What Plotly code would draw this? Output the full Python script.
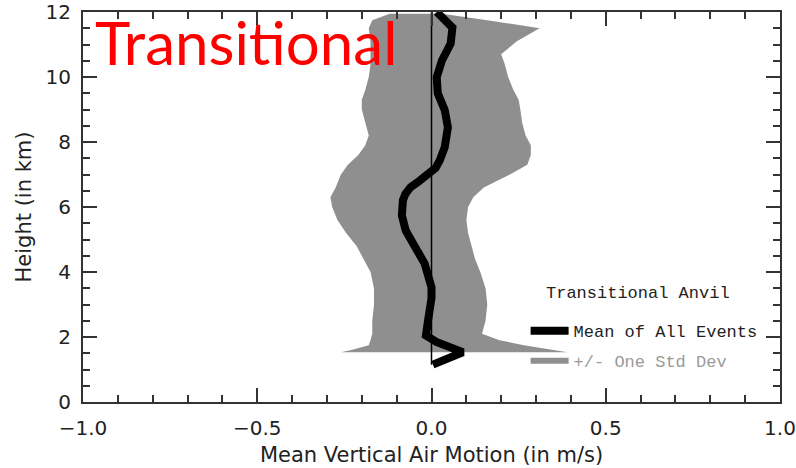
import plotly.graph_objects as go

# Standard-deviation envelope: height (km) with lower / upper bound (m/s)
band_height = [1.53, 1.60, 1.75, 1.90, 2.10, 2.50, 3.00, 3.50, 4.00, 4.40, 4.80,
               5.20, 5.60, 6.00, 6.30, 6.60, 7.00, 7.30, 7.60, 7.90, 8.20, 8.60,
               9.00, 9.30, 9.60, 10.00, 10.40, 10.70, 11.10, 11.50, 11.75, 11.95]
band_low = [-0.26, -0.23, -0.18, -0.175, -0.17, -0.17, -0.165, -0.165, -0.175, -0.195, -0.215,
            -0.245, -0.27, -0.285, -0.29, -0.275, -0.26, -0.24, -0.21, -0.19, -0.18, -0.19,
            -0.20, -0.20, -0.19, -0.18, -0.175, -0.175, -0.175, -0.18, -0.17, -0.12]
band_high = [0.39, 0.35, 0.265, 0.195, 0.145, 0.155, 0.16, 0.155, 0.14, 0.125, 0.115,
             0.105, 0.10, 0.105, 0.12, 0.15, 0.225, 0.275, 0.285, 0.285, 0.27, 0.26,
             0.255, 0.25, 0.235, 0.22, 0.21, 0.20, 0.245, 0.31, 0.16, 0.03]

# Mean vertical air motion profile
mean_height = [1.15, 1.53, 1.85, 2.05, 2.50, 2.82, 3.20, 3.53, 4.05, 4.27, 4.82,
               5.28, 5.74, 6.21, 6.40, 6.61, 6.80, 7.03, 7.20, 7.44, 7.84, 8.45,
               8.98, 9.50, 9.99, 10.51, 11.03, 11.52, 12.00]
mean_w = [0.004, 0.09, 0.014, -0.016, -0.01, -0.005, 0.0, 0.0, -0.012, -0.02, -0.05,
          -0.074, -0.085, -0.082, -0.075, -0.06, -0.035, -0.005, 0.012, 0.024, 0.038, 0.047,
          0.038, 0.018, 0.015, 0.03, 0.055, 0.06, 0.015]

x_ticks = [-1.0, -0.5, 0.0, 0.5, 1.0]
y_ticks = [0, 2, 4, 6, 8, 10, 12]

ink = "#222222"
grey = "#8f8f8f"
tick_font = dict(family="DejaVu Sans", size=20, color=ink)
title_font = dict(family="DejaVu Sans", size=21, color=ink)
mono = dict(family="Liberation Mono", size=17, color=ink)

fig = go.Figure()

# envelope polygon: up the lower bound, back down the upper bound
fig.add_trace(go.Scatter(
    x=band_low + band_high[::-1],
    y=band_height + band_height[::-1],
    fill="toself", fillcolor=grey, mode="none",
    name="<span style='color:#9a9a9a'>+/- One Std Dev</span>",
    legendgroup="b", legendrank=2,
))

# zero reference line spanning the profile
fig.add_trace(go.Scatter(
    x=[0, 0], y=[mean_height[0], mean_height[-1]],
    mode="lines", line=dict(color="black", width=1.5),
    showlegend=False, hoverinfo="skip",
))

fig.add_trace(go.Scatter(
    x=mean_w, y=mean_height, mode="lines",
    line=dict(color="black", width=8),
    name="Mean of All Events", legendgroup="a", legendrank=1,
))

axis_common = dict(
    showline=True, linecolor="#333333", linewidth=2, mirror="allticks",
    ticks="inside", tickcolor="#333333", tickwidth=1.5, ticklen=14,
    showgrid=False, zeroline=False, tickfont=tick_font, automargin=False,
)

fig.update_xaxes(
    range=[-1.0, 1.0], tickvals=x_ticks, tickformat=".1f",
    minor=dict(ticks="inside", dtick=0.1, ticklen=7, tickcolor="#333333", tickwidth=1.5),
    title=dict(text="Mean Vertical Air Motion (in m/s)", font=title_font, standoff=8),
    ticklabelstandoff=7,
    **axis_common,
)
fig.update_yaxes(
    range=[0, 12], tickvals=y_ticks,
    minor=dict(ticks="inside", dtick=0.5, ticklen=7, tickcolor="#333333", tickwidth=1.5),
    title=dict(text="Height (in km)", font=title_font, standoff=8),
    ticklabelstandoff=6,
    **axis_common,
)

fig.add_annotation(
    text="Transitional", xref="paper", yref="paper",
    x=0.015, y=0.923, xanchor="left", yanchor="middle",
    showarrow=False, font=dict(family="Lato", size=60, color="#ff0000"),
)

# heading above the legend entries
fig.add_annotation(
    text="Transitional Anvil", xref="paper", yref="paper",
    x=0.796, y=0.278, xanchor="center", yanchor="middle",
    showarrow=False, font=mono,
)

fig.update_layout(
    width=796, height=468,
    margin=dict(l=83, r=16, t=12, b=66),
    paper_bgcolor="white", plot_bgcolor="white",
    showlegend=True,
    legend=dict(
        x=0.635, y=0.228, xanchor="left", yanchor="top",
        bgcolor="rgba(0,0,0,0)", font=mono,
        traceorder="grouped", tracegroupgap=5, itemwidth=38,
    ),
)

fig.write_html("out.html")
